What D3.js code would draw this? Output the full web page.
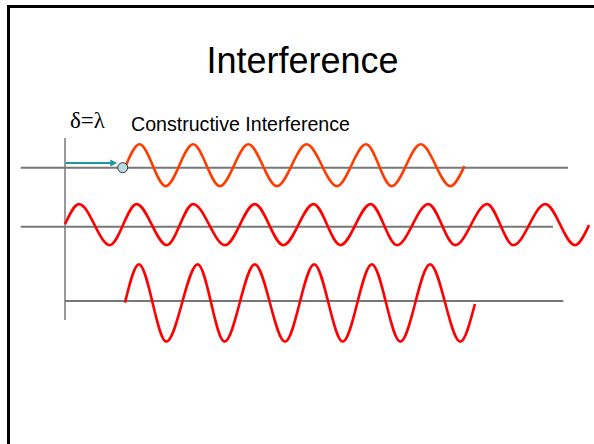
<!DOCTYPE html>
<html>
<head>
<meta charset="utf-8">
<script src="https://cdn.jsdelivr.net/npm/d3@7"></script>
<style>
  html, body { margin: 0; background: #fff; overflow: hidden; }
  svg { display: block; }
</style>
</head>
<body>
<script>
// x in wavelengths (lambda), y in amplitude units from each row's axis
const wave1X = [1.03, 1.28, 1.73, 2.20, 2.66, 3.15, 3.64, 4.15, 4.67, 5.17, 5.61, 6.11, 6.62, 6.86];
const wave1Y = [0, 1.17, -0.92, 1.17, -0.92, 1.17, -0.92, 1.17, -0.92, 1.17, -0.92, 1.17, -0.92, 0.08];

const wave2X = [0, 0.24, 0.77, 1.23, 1.75, 2.20, 2.75, 3.26, 3.75, 4.27, 4.73, 5.25, 5.70, 6.24, 6.70, 7.25, 7.70, 8.25, 8.76, 9.00];
const wave2Y = [0.13, 1.13, -0.92, 1.13, -0.92, 1.13, -0.92, 1.13, -0.92, 1.13, -0.92, 1.13, -0.92, 1.13, -0.92, 1.13, -0.92, 1.13, -0.92, 0.08];

const wave3X = [1.03, 1.27, 1.74, 2.28, 2.74, 3.26, 3.78, 4.28, 4.77, 5.27, 5.76, 6.27, 6.79, 7.04];
const wave3Y = [-0.08, 1.83, -2.03, 1.83, -2.03, 1.83, -2.03, 1.83, -2.03, 1.83, -2.03, 1.83, -2.03, -0.15];

// baseline extents per row, in wavelengths
const axisStart = [-0.76, -0.76, 0];
const axisEnd = [8.64, 8.38, 8.56];
const delta = [0, 1];   // shift of one wavelength

const W = 594, H = 444;
const svg = d3.select("body").append("svg")
    .attr("width", W)
    .attr("height", H);

// slide frame: only the top and left edges show
svg.append("line")
    .attr("x1", 7).attr("x2", W)
    .attr("y1", 6.5).attr("y2", 6.5)
    .attr("stroke", "#000")
    .attr("stroke-width", 3);
svg.append("line")
    .attr("x1", 8.5).attr("x2", 8.5)
    .attr("y1", 5).attr("y2", H)
    .attr("stroke", "#000")
    .attr("stroke-width", 3);

svg.append("text")
    .attr("x", 302.5).attr("y", 73)
    .attr("text-anchor", "middle")
    .style("font-family", "'Liberation Sans', Arial, sans-serif")
    .style("font-size", "36px")
    .text("Interference");

svg.append("text")
    .attr("x", 70).attr("y", 128)
    .style("font-family", "'Liberation Serif', 'DejaVu Serif', serif")
    .style("font-size", "23px")
    .text("δ=λ");

svg.append("text")
    .attr("x", 131).attr("y", 131)
    .style("font-family", "'Liberation Sans', Arial, sans-serif")
    .style("font-size", "19.6px")
    .text("Constructive Interference");

const x = d3.scaleLinear().domain([0, 9]).range([65, 589]);
const y = d3.scaleLinear().domain([-1, 1]).range([20, -20]);

const rowY = [167.7, 226.7, 301];
const waves = [
    { xs: wave1X, ys: wave1Y, color: "#ff3c00" },
    { xs: wave2X, ys: wave2Y, color: "#ff0000" },
    { xs: wave3X, ys: wave3Y, color: "#ff0000" }
];

// vertical axis
svg.append("line")
    .attr("x1", x(0)).attr("x2", x(0))
    .attr("y1", 138).attr("y2", 320)
    .attr("stroke", "#777")
    .attr("stroke-width", 1.5);

const line = d3.line()
    .x(d => x(d[0]))
    .y(d => y(d[1]))
    .curve(d3.curveMonotoneX);

waves.forEach((w, i) => {
    const g = svg.append("g").attr("transform", `translate(0,${rowY[i]})`);
    g.append("line")
        .attr("x1", x(axisStart[i])).attr("x2", x(axisEnd[i]))
        .attr("y1", y(0)).attr("y2", y(0))
        .attr("stroke", "#777")
        .attr("stroke-width", 2);
    g.append("path")
        .datum(d3.zip(w.xs, w.ys))
        .attr("d", line)
        .attr("fill", "none")
        .attr("stroke", w.color)
        .attr("stroke-width", 2.6)
        .attr("stroke-linejoin", "round");
});

// shift arrow and marker dot on the first row
const g1 = svg.append("g").attr("transform", `translate(0,${rowY[0]})`);
const ay = -4.7;
const tip = x(delta[1]) - 6;
g1.append("line")
    .attr("x1", x(delta[0]) + 1).attr("x2", tip - 5)
    .attr("y1", ay).attr("y2", ay)
    .attr("stroke", "#1a9a9a")
    .attr("stroke-width", 2.2);
g1.append("path")
    .attr("d", `M${tip},${ay} L${tip - 7},${ay - 3.6} L${tip - 7},${ay + 3.6} Z`)
    .attr("fill", "#1a9a9a");
g1.append("circle")
    .attr("cx", x(delta[1]) - 0.5).attr("cy", y(0))
    .attr("r", 5)
    .attr("fill", "#b8dde0")
    .attr("stroke", "#333")
    .attr("stroke-width", 1);
</script>
</body>
</html>
